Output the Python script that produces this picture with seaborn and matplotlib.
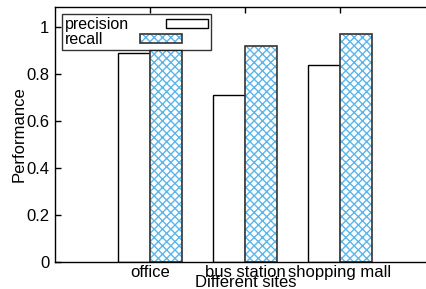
import matplotlib
matplotlib.use("Agg")
import matplotlib.pyplot as plt
import seaborn as sns
import pandas as pd
from matplotlib.colors import to_rgba

sites = ["office", "bus station", "shopping mall"]
precision = [0.89, 0.71, 0.84]
recall = [0.90, 0.92, 0.97]
metrics = ["precision", "recall"]
yticks = [0, 0.2, 0.4, 0.6, 0.8, 1]
ytick_labels = ["0", "0.2", "0.4", "0.6", "0.8", "1"]

df = pd.DataFrame({
    "site": sites * 2,
    "value": precision + recall,
    "metric": [metrics[0]] * len(sites) + [metrics[1]] * len(sites),
})

sns.set_style("white")
plt.rcParams["font.family"] = ["Liberation Sans", "DejaVu Sans"]
plt.rcParams["font.size"] = 12
plt.rcParams["hatch.linewidth"] = 1.0
for k in ["text.color", "axes.labelcolor", "xtick.color", "ytick.color"]:
    plt.rcParams[k] = "black"

fig = plt.figure(figsize=(4.27, 2.89), dpi=100)
ax = fig.add_axes([55 / 427, 27 / 289, 372 / 427, 255 / 289])

sns.barplot(data=df, x="site", y="value", hue="metric", order=sites,
            hue_order=metrics, palette=["white", "white"], width=0.67,
            saturation=1, legend=False, ax=ax, gap=0)

blue = to_rgba("#5cb6ea")
for p in ax.containers[0]:
    p.set_edgecolor("black")
    p.set_linewidth(1.0)
for p in ax.containers[1]:
    p.set_hatch("xxxx")
    p.set_edgecolor("#333333")
    p.set_linewidth(1.2)
    p._hatch_color = blue

ax.set_xlim(-1, 2.916)
ax.set_ylim(0, 1.085)
ax.set_yticks(yticks)
ax.set_yticklabels(ytick_labels)
ax.tick_params(axis="both", direction="in", length=4, width=1, color="black",
               labelcolor="black", labelsize=12, pad=3)
ax.tick_params(axis="x", top=True, bottom=False, pad=2)
ax.tick_params(axis="y", left=True, pad=4)

for s in ["left", "bottom", "top"]:
    ax.spines[s].set_visible(True)
    ax.spines[s].set_color("black")
    ax.spines[s].set_linewidth(1.0)
ax.spines["right"].set_visible(False)

ax.set_xlabel("Different sites", fontsize=12)
ax.set_ylabel("Performance", fontsize=12)
ax.xaxis.set_label_coords(0.513, -0.052)
ax.yaxis.set_label_coords(-0.075, 0.5)

h1 = ax.containers[0].patches[0]
h2 = ax.containers[1].patches[0]
leg = ax.legend([h1, h2], metrics, loc="upper left", markerfirst=False,
                bbox_to_anchor=(7 / 372, 1 - 7 / 255), borderaxespad=0,
                frameon=True, fancybox=False, handlelength=2.6,
                handleheight=0.45, handletextpad=2.3, borderpad=0.2,
                labelspacing=0.0, fontsize=11.5)
leg.get_frame().set_edgecolor("black")
leg.get_frame().set_linewidth(1.0)
for col in leg._legend_handle_box.get_children():
    col.align = "left"

fig.savefig("out.png", dpi=100)
